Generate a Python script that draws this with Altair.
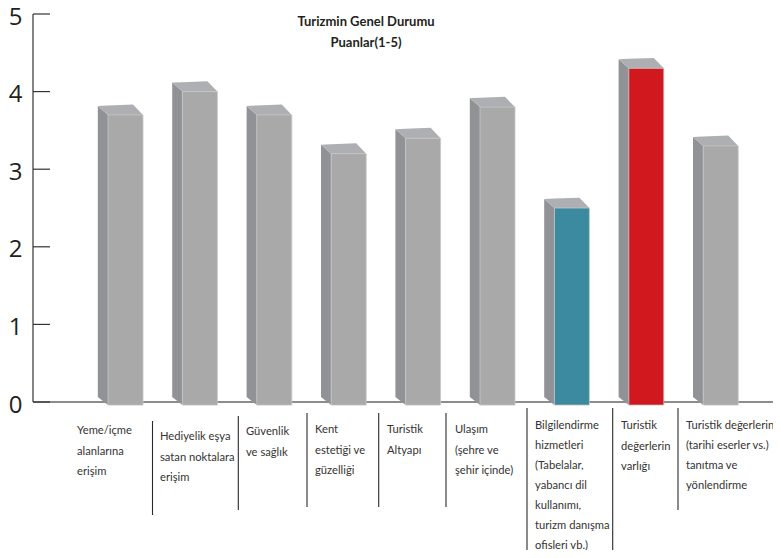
import altair as alt
import pandas as pd

CATEGORIES = [
    "Yeme/içme\nalanlarına\nerişim",
    "Hediyelik eşya\nsatan noktalara\nerişim",
    "Güvenlik\nve sağlık",
    "Kent\nestetiği ve\ngüzelliği",
    "Turistik\nAltyapı",
    "Ulaşım\n(şehre ve\nşehir içinde)",
    "Bilgilendirme\nhizmetleri\n(Tabelalar,\nyabancı dil\nkullanımı,\nturizm danışma\nofisleri vb.)",
    "Turistik\ndeğerlerin\nvarlığı",
    "Turistik değerlerin\n(tarihi eserler vs.)\ntanıtma ve\nyönlendirme",
]
VALUES = [3.7, 4.0, 3.7, 3.2, 3.4, 3.8, 2.5, 4.3, 3.3]
GROUPS = ["normal"] * 6 + ["low", "high", "normal"]
TITLE = "Turizmin Genel Durumu\nPuanlar(1-5)"
Y_TICKS = [0, 1, 2, 3, 4, 5]

# page-pixel layout of the annotations
LABEL_X = [77, 160, 246, 315, 387, 455, 535, 621, 686]
LABEL_Y = [425, 431, 426, 424, 424, 424, 420, 420, 420]
SEP_X = [152.5, 238.3, 307, 378.7, 446, 527, 612.7, 678]
SEP_TOP = [421, 416, 413, 413, 413, 408, 408, 408]
SEP_BOT = [515, 510, 507, 507, 507, 550, 550, 510]

ORIGIN_X, ORIGIN_Y = 33, 14
W, H = 740, 536
PX_PER_UNIT = 77.6
STEP, FIRST = 74.4, 125.5
HALF, DEPTH_X, DEPTH_Y = 17.5 / STEP, 10.2 / STEP, 9 / PX_PER_UNIT
BOTTOM, BACK_BOTTOM = -0.04, 0.065
BACK_RIGHT = 7.5 / STEP

xs = alt.Scale(domain=[(ORIGIN_X - FIRST) / STEP, (ORIGIN_X + W - FIRST) / STEP], nice=False, zero=False)
ys = alt.Scale(domain=[(402 - ORIGIN_Y - H) / PX_PER_UNIT, 5], nice=False, zero=False)
y_axis = alt.Axis(
    values=Y_TICKS, format="d", domain=False, ticks=False, grid=False, title=None,
    labelFont="Open Sans", labelFontSize=24, labelColor="#231f20", labelPadding=11,
    labelOffset=3)
X = lambda f: alt.X(f, type="quantitative", scale=xs, axis=None)
Y = lambda f: alt.Y(f, type="quantitative", scale=ys, axis=y_axis)

front = pd.DataFrame({
    "x": [i - HALF for i in range(9)],
    "x2": [i + HALF for i in range(9)],
    "v": VALUES,
    "b": [BOTTOM] * 9,
    "g": GROUPS,
})
side_rows, top_rows = [], []
for i, v in enumerate(VALUES):
    side_rows += [
        {"i": i, "x": i - HALF - DEPTH_X, "y": v + DEPTH_Y, "y2": BACK_BOTTOM},
        {"i": i, "x": i - HALF, "y": v, "y2": BOTTOM},
    ]
    top_rows += [
        {"i": i, "x": i - HALF - DEPTH_X, "y": v + DEPTH_Y, "y2": v + DEPTH_Y},
        {"i": i, "x": i - HALF, "y": v + DEPTH_Y * 1.05, "y2": v},
        {"i": i, "x": i + BACK_RIGHT, "y": v + DEPTH_Y * 1.15, "y2": v},
        {"i": i, "x": i + HALF, "y": v, "y2": v},
    ]

sides = alt.Chart(pd.DataFrame(side_rows)).mark_area(color="#919296", clip=False).encode(
    x=X("x"), y=Y("y"), y2="y2", detail="i:N")
tops = alt.Chart(pd.DataFrame(top_rows)).mark_area(color="#aeafb3").encode(
    x=X("x"), y=Y("y"), y2="y2", detail="i:N")
fronts = alt.Chart(front).mark_rect(stroke="#c6c6c6", strokeWidth=0.8).encode(
    x=X("x"), x2="x2", y=Y("v"), y2="b",
    color=alt.Color("g:N", legend=None, scale=alt.Scale(
        domain=["normal", "low", "high"], range=["#a9a9a9", "#3b8aa0", "#d2181f"])))

tick_df = pd.DataFrame({"t": Y_TICKS})
ticks = alt.Chart(tick_df).mark_rule(color="#333333", strokeWidth=1.2).encode(
    y=Y("t"), x=alt.value(0), x2=alt.value(17))
spine = alt.Chart(pd.DataFrame({"a": [0], "b": [5]})).mark_rule(color="#333333", strokeWidth=1.2).encode(
    x=alt.value(0), y=Y("a"), y2="b")
base = alt.Chart(pd.DataFrame({"a": [0]})).mark_rule(color="#666666", strokeWidth=1.6).encode(
    y=Y("a"), x=alt.value(0), x2=alt.value(W))

seps = alt.Chart(pd.DataFrame({
    "x": [(p - FIRST) / STEP for p in SEP_X],
    "t": [(402 - p) / PX_PER_UNIT for p in SEP_TOP],
    "b": [(402 - p) / PX_PER_UNIT for p in SEP_BOT],
})).mark_rule(color="#2a2a2a", strokeWidth=1.1).encode(x=X("x"), y=Y("t"), y2="b")

FONT = "Lato"
labels = [
    alt.Chart(pd.DataFrame({"a": [0]})).mark_text(
        text=c, lineBreak="\n", lineHeight=20 if len(c) > 60 else 20.5, font=FONT,
        fontSize=11.2, color="#333333", align="left", baseline="top",
    ).encode(x=alt.value(lx - ORIGIN_X), y=alt.value(ly - ORIGIN_Y))
    for c, lx, ly in zip(CATEGORIES, LABEL_X, LABEL_Y)
]
title = alt.Chart(pd.DataFrame({"a": [0]})).mark_text(
    text=TITLE, lineBreak="\n", lineHeight=21, font=FONT, fontSize=13, fontWeight="bold",
    color="#231f20", align="center", baseline="top",
).encode(x=alt.value(366 - ORIGIN_X), y=alt.value(2))

chart = alt.layer(base, sides, tops, fronts, ticks, spine, seps, *labels, title).properties(
    width=W, height=H,
    padding={"left": ORIGIN_X - 8, "top": ORIGIN_Y - 8, "right": 0, "bottom": 0},
    autosize=alt.AutoSizeParams(type="none"),
).configure_view(stroke=None)

chart.save("out.html", embed_options={"renderer": "svg", "actions": False})
